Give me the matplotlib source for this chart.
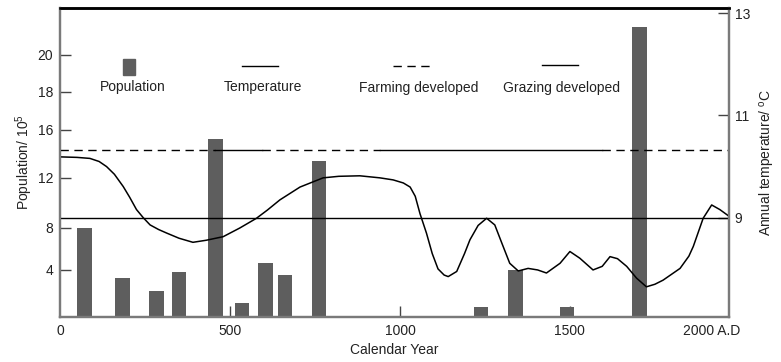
import numpy as np
import matplotlib
matplotlib.use("Agg")
import matplotlib.pyplot as plt
from matplotlib.patches import Rectangle
from matplotlib.lines import Line2D

plt.rcParams['font.family'] = ['Liberation Sans', 'DejaVu Sans']
plt.rcParams['font.size'] = 10
plt.rcParams['mathtext.default'] = 'regular'

TEXT = '#222222'
BAR = '#5e5e5e'
SPINE = '#7a7a7a'

# population bars (year, x 10^5)
bar_years = [72, 184, 284, 350, 457, 535, 604, 662, 762, 1238, 1340, 1491, 1704]
population = [8.0, 3.3, 2.2, 3.8, 15.25, 1.2, 4.7, 3.6, 13.4, 0.85, 4.0, 0.85, 21.5]

# annual temperature curve
temp_years = [0, 50, 88, 115, 137, 160, 186, 205, 225, 245, 265, 290, 314, 350,
              391, 430, 480, 529, 578, 610, 647, 706, 774, 820, 882, 941, 980,
              1010, 1030, 1045, 1059, 1078, 1095, 1112, 1130, 1142, 1167, 1190,
              1206, 1230, 1255, 1279, 1300, 1323, 1348, 1377, 1405, 1431, 1471,
              1500, 1529, 1568, 1595, 1618, 1640, 1667, 1696, 1725, 1750, 1774,
              1824, 1850, 1863, 1892, 1917, 1941, 1968]
temperature = [10.19, 10.18, 10.16, 10.10, 10.00, 9.85, 9.61, 9.40, 9.16, 9.00,
               8.86, 8.77, 8.70, 8.60, 8.52, 8.56, 8.63, 8.80, 8.99, 9.15, 9.35,
               9.60, 9.78, 9.81, 9.82, 9.78, 9.74, 9.68, 9.60, 9.42, 9.08, 8.70,
               8.30, 8.00, 7.88, 7.85, 7.95, 8.30, 8.57, 8.85, 8.99, 8.86, 8.50,
               8.11, 7.96, 8.01, 7.98, 7.92, 8.11, 8.34, 8.21, 7.98, 8.05, 8.24,
               8.20, 8.05, 7.82, 7.65, 7.70, 7.78, 8.01, 8.25, 8.44, 8.99, 9.25,
               9.16, 9.03]

mean_temp = 9.0
period_level = 10.32
# (start, end, kind) : farming = dashed, grazing = solid
periods = [(0, 455, 'farming'), (455, 594, 'grazing'), (594, 940, 'farming'),
           (940, 1594, 'grazing'), (1594, 1968, 'farming')]

x_ticks = [0, 500, 1000, 1500, 1918]
x_labels = ['0', '500', '1000', '1500', '2000 A.D']
pop_ticks = [4, 8, 12, 16, 18, 20]
temp_ticks = [9, 11, 13]

# the printed population axis is not evenly spaced; follow its tick spacing
scale_vals = [-100, 0, 4, 8, 12, 16, 18, 20, 100]
scale_pos = [-1200, 0, 47, 89, 139, 187, 225, 262, 1742]


def fwd(v):
    return np.interp(v, scale_vals, scale_pos)


def inv(h):
    return np.interp(h, scale_pos, scale_vals)


fig = plt.figure(figsize=(7.81, 3.62), dpi=100)
ax = fig.add_axes([60 / 781, 45 / 362, 669 / 781, 309 / 362])
ax2 = ax.twinx()

ax.bar(bar_years, population, width=43, color=BAR, zorder=2)
ax.set_yscale('function', functions=(fwd, inv))
ax.set_ylim(0, 22.54)
ax.set_xlim(0, 1968)

ax2.plot(temp_years, temperature, color='black', lw=1.1)
ax2.axhline(mean_temp, color='black', lw=1)
for start, end, kind in periods:
    ls = (0, (6, 4)) if kind == 'farming' else '-'
    ax2.plot([start, end], [period_level, period_level], color='black', lw=1, ls=ls)
ax2.set_ylim(7.06, 13.1)

# ticks
ax.set_xticks(x_ticks)
ax.set_xticklabels(x_labels)
ax.set_yticks(pop_ticks)
ax.set_yticklabels([str(t) for t in pop_ticks])
ax.yaxis.set_minor_locator(matplotlib.ticker.NullLocator())
ax2.set_yticks(temp_ticks)
ax2.set_yticklabels([str(t) for t in temp_ticks])
ax.tick_params(axis='both', direction='in', length=8, width=1, color='#444444',
               labelcolor=TEXT, labelsize=10, pad=5)
ax2.tick_params(axis='y', direction='in', length=8, width=1, color='#444444',
                labelcolor=TEXT, labelsize=10, pad=4)
ax.xaxis.get_major_ticks()[0].tick1line.set_visible(False)
ax.xaxis.get_major_ticks()[-1].tick1line.set_visible(False)

for a in (ax, ax2):
    for side in ('left', 'right', 'bottom'):
        a.spines[side].set_color(SPINE)
        a.spines[side].set_linewidth(1.6)
    a.spines['top'].set_color('black')
    a.spines['top'].set_linewidth(1.8)

ax.set_xlabel('Calendar Year', color=TEXT, labelpad=4)
ax.set_ylabel('Population/ 10$^5$', color=TEXT, labelpad=2)
ax2.set_ylabel('Annual temperature/ $^o$C', color=TEXT, labelpad=6)

# legend drawn as in the original figure
tr = ax2.transAxes
ax2.add_patch(Rectangle((0.0941, 0.783), 0.0179, 0.052, transform=tr,
                        color=BAR, clip_on=False))
ax2.text(0.109, 0.744, 'Population', transform=tr, ha='center', va='center', color=TEXT)
ax2.add_line(Line2D([0.272, 0.326], [0.812, 0.812], transform=tr, color='black', lw=1))
ax2.text(0.3034, 0.744, 'Temperature', transform=tr, ha='center', va='center', color=TEXT)
ax2.add_line(Line2D([0.498, 0.556], [0.812, 0.812], transform=tr, color='black', lw=1,
                    ls=(0, (6, 4))))
ax2.text(0.5366, 0.741, 'Farming developed', transform=tr, ha='center', va='center',
         color=TEXT)
ax2.add_line(Line2D([0.7205, 0.774], [0.8155, 0.8155], transform=tr, color='black', lw=1))
ax2.text(0.749, 0.741, 'Grazing developed', transform=tr, ha='center', va='center',
         color=TEXT)

fig.savefig('out.png', dpi=100)
